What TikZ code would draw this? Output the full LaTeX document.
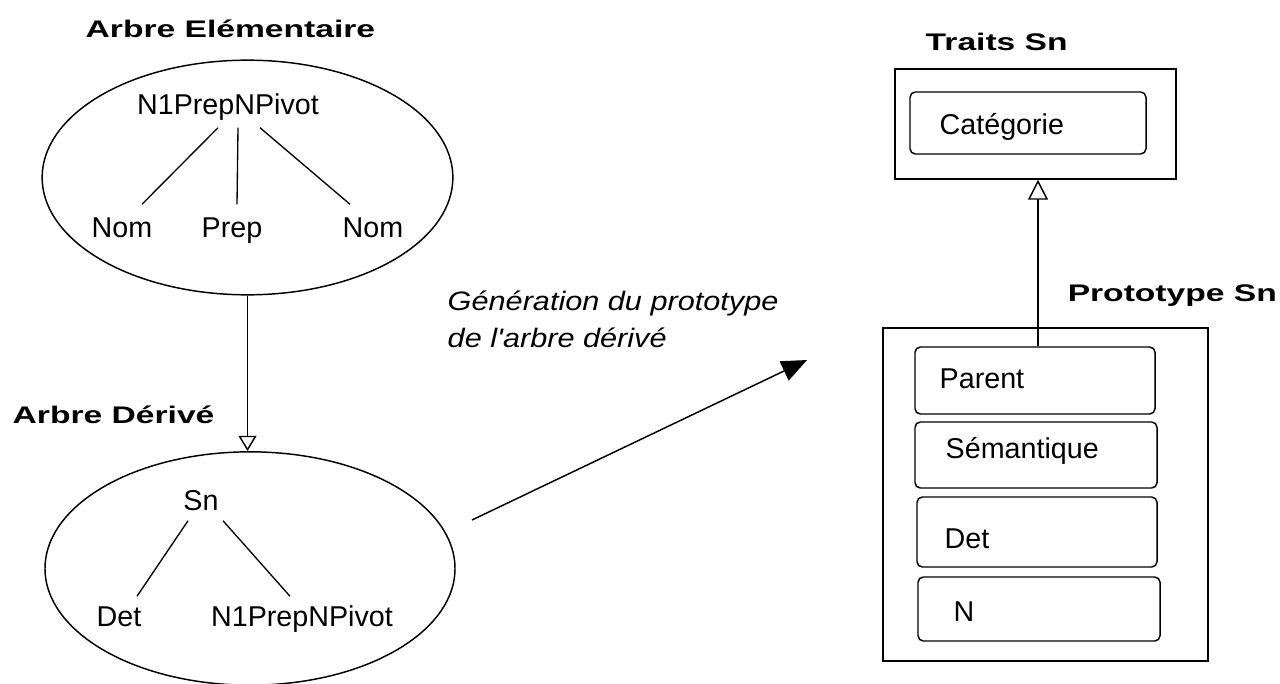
\documentclass[tikz,border=0pt]{standalone}
\usepackage{fontspec}
\setmainfont{Liberation Sans}
\newfontfamily\titlefont[FakeStretch=1.4]{Liberation Sans}
\newfontfamily\notefont[FakeStretch=1.15]{Liberation Sans}
\usetikzlibrary{arrows.meta,shapes.geometric,calc}

\begin{document}
\begin{tikzpicture}[x=0.75pt,y=-0.75pt,
  line width=1.1pt,
  title/.style={anchor=base west,inner sep=0pt,font=\titlefont\fontsize{18}{20}\selectfont\bfseries},
  lbl/.style={anchor=base,inner sep=0pt,text height=15.75pt,text depth=4.5pt,font=\fontsize{21.5}{24}\selectfont},
  boxlbl/.style={anchor=base west,inner sep=0pt,font=\fontsize{21.5}{24}\selectfont},
  note/.style={anchor=base west,inner sep=0pt,font=\notefont\fontsize{20}{22}\selectfont\itshape},
  tree/.style={ellipse,draw,inner sep=0pt},
  frame/.style={rectangle,draw,inner sep=0pt},
  field/.style={rectangle,draw,rounded corners=4pt,inner sep=0pt},
  edge/.style={line width=1pt},
  derive/.style={-{Triangle[open,width=13.5pt,length=11.5pt]}},
  gen/.style={-{Triangle[width=15.75pt,length=19pt]}},
  inherit/.style={-{Triangle[open,width=15pt,length=15pt]}}]
\useasboundingbox (0,0) rectangle (1280,684);

% elementary tree
\node[title] (t1) at (85,38) {Arbre Elémentaire};
\node[tree,minimum width=308pt,minimum height=176pt] (e1) at (247.5,177.5) {};
\node[lbl] (r1) at (228,115) {N1PrepNPivot};
\node[lbl] (nom1) at (122,238) {Nom};
\node[lbl] (prep) at (232,238) {Prep};
\node[lbl] (nom2) at (373,238) {Nom};
\draw[edge] ($(r1.south)+(-10,6)$) -- ($(nom1.north)+(20,-12)$);
\draw[edge] ($(r1.south)+(10,6)$) -- ($(prep.north)+(5,-12)$);
\draw[edge] ($(r1.south)+(32,6)$) -- ($(nom2.north)+(-23,-12)$);

% derived tree
\node[title] (t2) at (12,423) {Arbre Dérivé};
\node[tree,minimum width=307.5pt,minimum height=175pt] (e2) at (250,568.5) {};
\node[lbl] (sn) at (201,510) {Sn};
\node[lbl] (det) at (119,626) {Det};
\node[lbl] (r2) at (302,626) {N1PrepNPivot};
\draw[edge] ($(sn.south)+(-13,4)$) -- ($(det.north)+(18,-8)$);
\draw[edge] ($(sn.south)+(22,4)$) -- ($(r2.north)+(-12,-8)$);

\draw[derive] (e1.south) -- (e1.south |- e2.north);

% generation of the prototype
\node[note] (g1) at (447,310) {Génération du prototype};
\node[note] (g2) at (447,347) {de l'arbre dérivé};
\coordinate (gs) at (472,520);
\coordinate (ge) at (807,360);
\draw[gen] (gs) -- (ge);

% feature classes
\node[title] (t3) at (925,51) {Traits Sn};
\node[frame,minimum width=210.75pt,minimum height=82.5pt] (tbox) at (1035.5,124) {};
\node[field,minimum width=177pt,minimum height=46.5pt] (cbox) at (1028,123) {};
\node[boxlbl] (cl) at (939,135) {Catégorie};

\node[title] (t4) at (1067,301) {Prototype Sn};
\node[frame,minimum width=243.75pt,minimum height=249.75pt] (pbox) at (1045.5,494.5) {};
\node[field,minimum width=180pt,minimum height=50.25pt] (f1) at (1035,380.5) {};
\node[boxlbl] (l1) at (939,388) {Parent};
\node[field,minimum width=181.5pt,minimum height=49.5pt] (f2) at (1036,455) {};
\node[boxlbl] (l2) at (945,458) {Sémantique};
\node[field,minimum width=180pt,minimum height=52.5pt] (f3) at (1037,532) {};
\node[boxlbl] (l3) at (944,548) {Det};
\node[field,minimum width=181.5pt,minimum height=48pt] (f4) at (1039,609) {};
\node[boxlbl] (l4) at (953,621) {N};

% inheritance link from the prototype to the feature class
\coordinate (ia) at ($(f1.north)+(3,0)$);
\draw[inherit] (ia) -- (ia |- tbox.south);
\end{tikzpicture}
\end{document}
